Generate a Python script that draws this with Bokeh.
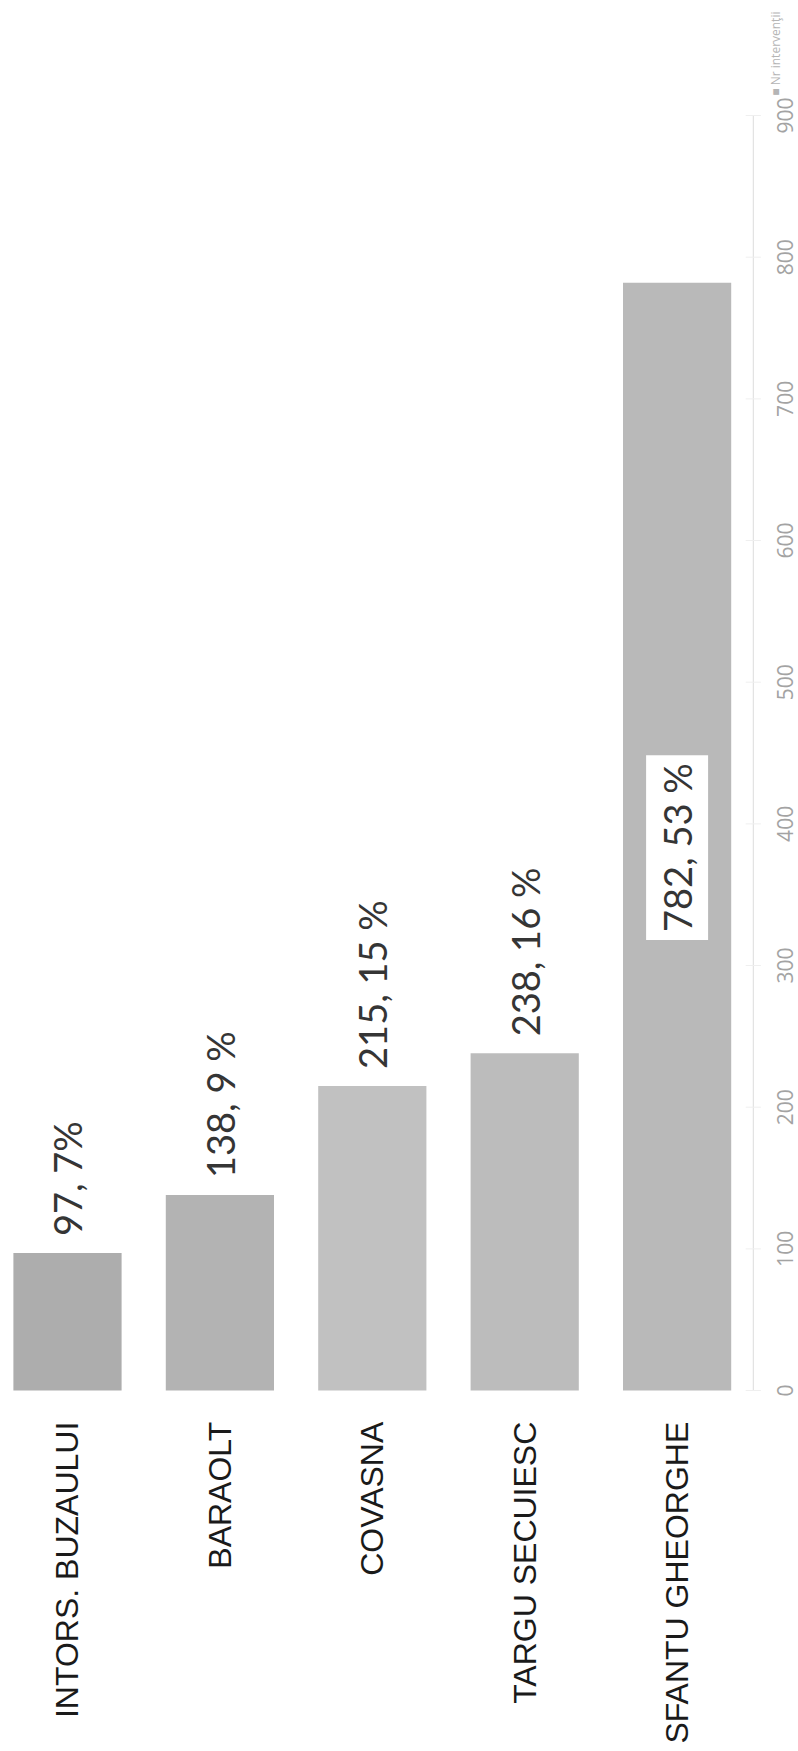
import math
from bokeh.plotting import figure
from bokeh.models import Range1d, ColumnDataSource
from bokeh.core.properties import value
from bokeh.embed import file_html
from bokeh.resources import INLINE

# ---- data ----
categories = ["INTORS. BUZAULUI", "BARAOLT", "COVASNA", "TARGU SECUIESC", "SFANTU GHEORGHE"]
interventions = [97, 138, 215, 238, 782]
percent_labels = ["97, 7%", "138, 9 %", "215, 15 %", "238, 16 %", "782, 53 %"]
value_ticks = [0, 100, 200, 300, 400, 500, 600, 700, 800, 900]
legend_label = "Nr intervenţii"

# ---- styles ----
bar_colors = ["#adadad", "#b3b3b3", "#c1c1c1", "#bcbcbc", "#b9b9b9"]
W, H = 798, 1751

idx = list(range(len(categories)))
n = len(categories)
axis_x = n - 0.5            # value axis sits just right of the last band
tick_label_x = axis_x + 0.211
inside = [v > 700 for v in interventions]

p = figure(width=W, height=H, min_border=0,
           x_range=Range1d(-0.4396, 4.7966), y_range=Range1d(-254.8, 981.2),
           output_backend="svg", toolbar_location=None, tools="")
p.outline_line_color = None
p.background_fill_color = "white"
p.border_fill_color = "white"
p.grid.visible = False
p.axis.visible = False

# bars
src = ColumnDataSource(dict(x=idx, top=interventions, color=bar_colors))
p.vbar(x="x", top="top", bottom=0, width=0.71, fill_color="color", line_color=None, source=src)

# value axis (line, faint ticks, labels)
p.segment(x0=[axis_x], y0=[value_ticks[0]], x1=[axis_x], y1=[value_ticks[-1]],
          line_color="#dcdcdc", line_width=1)
p.segment(x0=[axis_x - 0.05] * len(value_ticks), y0=value_ticks,
          x1=[axis_x + 0.05] * len(value_ticks), y1=value_ticks,
          line_color="#efefef", line_width=1)
p.text(x=[tick_label_x] * len(value_ticks), y=value_ticks, text=[str(t) for t in value_ticks],
       angle=math.pi / 2, text_align="center", text_baseline="middle",
       text_font=value("Open Sans"), text_font_size="21px", text_color="#a3a3a3")

# value labels above bars
out_idx = [i for i in idx if not inside[i]]
p.text(x=out_idx, y=[interventions[i] + 12 for i in out_idx],
       text=[percent_labels[i] for i in out_idx], angle=math.pi / 2,
       text_align="left", text_baseline="middle",
       text_font=value("Lato"), text_font_size="38px", text_color="#353535")

# value label inside the big bar, on a white box
in_idx = [i for i in idx if inside[i]]
p.text(x=in_idx, y=[interventions[i] * 0.49 for i in in_idx],
       text=[percent_labels[i] for i in in_idx], angle=math.pi / 2,
       text_align="center", text_baseline="middle",
       text_font=value("Lato"), text_font_size="38px", text_color="#353535",
       background_fill_color="white", padding=8)

# category labels below bars
p.text(x=idx, y=[-22.0] * n, text=categories, angle=math.pi / 2,
       text_align="right", text_baseline="middle",
       text_font=value("Liberation Sans"), text_font_size="32px", text_color="#1a1a1a")

# legend (faint, top right)
p.text(x=[4.646], y=[914.0], text=["\u25a0 " + legend_label], angle=math.pi / 2,
       text_align="left", text_baseline="middle",
       text_font=value("Open Sans"), text_font_size="12px", text_color="#b5b5b5")

open("out.html", "w").write(file_html(p, INLINE))
